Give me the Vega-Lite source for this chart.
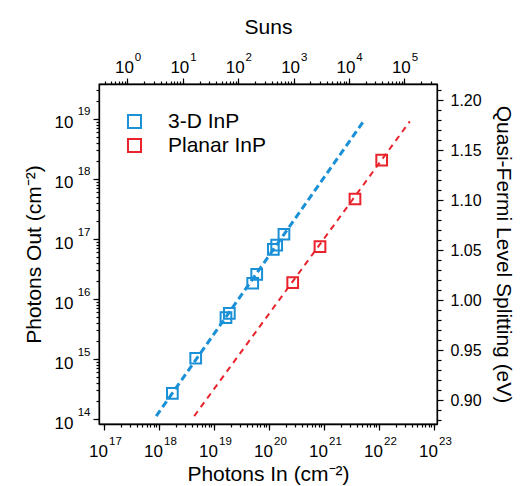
{
  "$schema": "https://vega.github.io/schema/vega-lite/v6.json",
  "autosize": "none",
  "width": 338,
  "height": 340,
  "padding": {"left": 99, "top": 84, "right": 86, "bottom": 62},
  "background": "white",
  "config": {
    "font": "Liberation Sans",
    "view": {"stroke": "black", "strokeWidth": 1.3},
    "axis": {
      "grid": false,
      "domainColor": "black",
      "domainWidth": 1.3,
      "tickColor": "black",
      "tickWidth": 1.2,
      "labelColor": "black",
      "titleColor": "black",
      "labelFontSize": 17,
      "titleFontSize": 21,
      "titleFontWeight": "normal",
      "labelFont": "Liberation Sans",
      "titleFont": "Liberation Sans"
    },
    "legend": {"labelFont": "Liberation Sans"}
  },
  "datasets": {
    "measured": [
      {"sample": "3-D InP", "photons_in": 1.75e18, "photons_out": 2.68e14},
      {"sample": "3-D InP", "photons_in": 4.65e18, "photons_out": 1.03e15},
      {"sample": "3-D InP", "photons_in": 1.65e19, "photons_out": 4.88e15},
      {"sample": "3-D InP", "photons_in": 1.9e19, "photons_out": 5.78e15},
      {"sample": "3-D InP", "photons_in": 5.06e19, "photons_out": 1.83e16},
      {"sample": "3-D InP", "photons_in": 5.98e19, "photons_out": 2.58e16},
      {"sample": "3-D InP", "photons_in": 1.2e20, "photons_out": 6.73e16},
      {"sample": "3-D InP", "photons_in": 1.38e20, "photons_out": 7.94e16},
      {"sample": "3-D InP", "photons_in": 1.87e20, "photons_out": 1.2e17},
      {"sample": "Planar InP", "photons_in": 2.7e20, "photons_out": 1.87e16},
      {"sample": "Planar InP", "photons_in": 8.46e20, "photons_out": 7.45e16},
      {"sample": "Planar InP", "photons_in": 3.66e21, "photons_out": 4.64e17},
      {"sample": "Planar InP", "photons_in": 1.12e22, "photons_out": 2.07e18}
    ],
    "fit_3d": [
      {"photons_in": 8.9e17, "photons_out": 1.12e14},
      {"photons_in": 5.13e21, "photons_out": 8.9e18}
    ],
    "fit_planar": [
      {"photons_in": 4.37e18, "photons_out": 1.12e14},
      {"photons_in": 3.63e22, "photons_out": 9.1e18}
    ],
    "secondary": [
      {"suns": 1, "qfls": 1.0}
    ]
  },
  "layer": [
    {
      "encoding": {
        "x": {
          "field": "photons_in",
          "type": "quantitative",
          "title": "Photons In (cm⁻²)",
          "scale": {"type": "log", "domain": [8.11e16, 1.135e23], "nice": false},
          "axis": {
            "orient": "bottom",
            "values": [1e17,1e18,1e19,1e20,1e21,1e22,1e23],
            "labelExpr": "'10'",
            "ticks": true,
            "tickSize": 6,
            "labelOverlap": false,
            "labelFlush": false,
            "labelBaseline": "middle",
            "labelPadding": 21,
            "labelOffset": -6,
            "titlePadding": 4
          }
        },
        "y": {
          "field": "photons_out",
          "type": "quantitative",
          "title": "Photons Out (cm⁻²)",
          "scale": {"type": "log", "domain": [8.26e13, 3.83e19], "nice": false},
          "axis": {
            "orient": "left",
            "values": [1e14,1e15,1e16,1e17,1e18,1e19],
            "labelExpr": "'10'",
            "ticks": true,
            "tickSize": 6,
            "labelOverlap": false,
            "labelFlush": false,
            "labelAlign": "right",
            "labelBaseline": "middle",
            "labelPadding": 20,
            "labelOffset": 4,
            "titlePadding": 10
          }
        }
      },
      "layer": [
        {
          "data": {"name": "fit_3d"},
          "mark": {"type": "line", "color": "#1a90d6", "strokeWidth": 3, "strokeDash": [7, 4], "clip": true}
        },
        {
          "data": {"name": "fit_planar"},
          "mark": {"type": "line", "color": "#e8232b", "strokeWidth": 2, "strokeDash": [6, 5], "clip": true}
        },
        {
          "data": {"name": "measured"},
          "mark": {"type": "point", "shape": "square", "filled": false, "size": 115, "strokeWidth": 2, "opacity": 1},
          "encoding": {
            "color": {
              "field": "sample",
              "type": "nominal",
              "scale": {"domain": ["3-D InP", "Planar InP"], "range": ["#1a90d6", "#e8232b"]},
              "legend": {
                "title": null,
                "orient": "none",
                "legendX": 25,
                "legendY": 27,
                "padding": 0,
                "symbolType": "square",
                "symbolSize": 170,
                "symbolStrokeWidth": 2,
                "symbolFillColor": "transparent",
                "labelFontSize": 21,
                "labelColor": "black",
                "labelOffset": 23,
                "rowPadding": 1
              }
            }
          }
        }
      ]
    },
    {
      "data": {"name": "measured"},
      "mark": {"type": "point", "opacity": 0},
      "encoding": {
        "x": {
          "field": "photons_in",
          "type": "quantitative",
          "scale": {"type": "log", "domain": [8.11e16, 1.135e23], "nice": false},
          "axis": {
            "orient": "bottom",
            "title": null,
            "domain": false,
            "ticks": true,
            "tickSize": 3,
            "labelOverlap": false,
            "labelFlush": false,
            "values": [1e17,2e17,3e17,4e17,5e17,6e17,7e17,8e17,9e17,1e18,2e18,3e18,4e18,5e18,6e18,7e18,8e18,9e18,1e19,2e19,3e19,4e19,5e19,6e19,7e19,8e19,9e19,1e20,2e20,3e20,4e20,5e20,6e20,7e20,8e20,9e20,1e21,2e21,3e21,4e21,5e21,6e21,7e21,8e21,9e21,1e22,2e22,3e22,4e22,5e22,6e22,7e22,8e22,9e22,1e23],
            "labelExpr": "abs(log(datum.value)/LN10 - round(log(datum.value)/LN10)) < 0.001 ? '' + round(log(datum.value)/LN10) : ''",
            "labelFontSize": 11.5,
            "labelBaseline": "middle",
            "labelPadding": 14,
            "labelOffset": 11
          }
        },
        "y": {
          "field": "photons_out",
          "type": "quantitative",
          "scale": {"type": "log", "domain": [8.26e13, 3.83e19], "nice": false},
          "axis": {
            "orient": "left",
            "title": null,
            "domain": false,
            "ticks": true,
            "tickSize": 3,
            "labelOverlap": false,
            "labelFlush": false,
            "values": [1e14,2e14,3e14,4e14,5e14,6e14,7e14,8e14,9e14,1e15,2e15,3e15,4e15,5e15,6e15,7e15,8e15,9e15,1e16,2e16,3e16,4e16,5e16,6e16,7e16,8e16,9e16,1e17,2e17,3e17,4e17,5e17,6e17,7e17,8e17,9e17,1e18,2e18,3e18,4e18,5e18,6e18,7e18,8e18,9e18,1e19,2e19,3e19],
            "labelExpr": "abs(log(datum.value)/LN10 - round(log(datum.value)/LN10)) < 0.001 ? '' + round(log(datum.value)/LN10) : ''",
            "labelFontSize": 11.5,
            "labelAlign": "right",
            "labelBaseline": "middle",
            "labelPadding": 6,
            "labelOffset": -7
          }
        }
      }
    },
    {
      "data": {"name": "secondary"},
      "mark": {"type": "point", "opacity": 0},
      "encoding": {
        "x": {
          "field": "suns",
          "type": "quantitative",
          "title": "Suns",
          "scale": {"type": "log", "domain": [0.306, 389000], "nice": false},
          "axis": {
            "orient": "top",
            "values": [1,10,100,1000,10000,100000],
            "labelExpr": "'10'",
            "ticks": true,
            "tickSize": 6,
            "labelOverlap": false,
            "labelFlush": false,
            "labelBaseline": "middle",
            "labelPadding": 11,
            "labelOffset": -3.5,
            "titlePadding": 21
          }
        },
        "y": {
          "field": "qfls",
          "type": "quantitative",
          "title": "Quasi-Fermi Level Splitting (eV)",
          "scale": {"domain": [0.876, 1.2165], "zero": false, "nice": false},
          "axis": {
            "orient": "right",
            "values": [0.9,0.95,1.0,1.05,1.1,1.15,1.2],
            "labelExpr": "format(datum.value, '.2f')",
            "ticks": true,
            "tickSize": 6,
            "labelOverlap": false,
            "labelFlush": false,
            "labelFontSize": 16,
            "labelAlign": "left",
            "labelBaseline": "middle",
            "labelPadding": 7,
            "titlePadding": 11
          }
        }
      }
    },
    {
      "data": {"name": "secondary"},
      "mark": {"type": "point", "opacity": 0},
      "encoding": {
        "x": {
          "field": "suns",
          "type": "quantitative",
          "scale": {"type": "log", "domain": [0.306, 389000], "nice": false},
          "axis": {
            "orient": "top",
            "title": null,
            "domain": false,
            "ticks": true,
            "tickSize": 3,
            "labelOverlap": false,
            "labelFlush": false,
            "values": [0.4,0.5,0.6,0.7,0.8,0.9,1,2,3,4,5,6,7,8,9,10,20,30,40,50,60,70,80,90,100,200,300,400,500,600,700,800,900,1000,2000,3000,4000,5000,6000,7000,8000,9000,10000,20000,30000,40000,50000,60000,70000,80000,90000,100000,200000,300000],
            "labelExpr": "abs(log(datum.value)/LN10 - round(log(datum.value)/LN10)) < 0.001 ? '' + round(log(datum.value)/LN10) : ''",
            "labelFontSize": 11.5,
            "labelBaseline": "middle",
            "labelPadding": 24,
            "labelOffset": 10
          }
        },
        "y": {
          "field": "qfls",
          "type": "quantitative",
          "scale": {"domain": [0.876, 1.2165], "zero": false, "nice": false},
          "axis": {
            "orient": "right",
            "title": null,
            "domain": false,
            "labels": false,
            "ticks": true,
            "tickSize": 4,
            "values": [0.88,0.89,0.91,0.92,0.93,0.94,0.96,0.97,0.98,0.99,1.01,1.02,1.03,1.04,1.06,1.07,1.08,1.09,1.11,1.12,1.13,1.14,1.16,1.17,1.18,1.19,1.21]
          }
        }
      }
    }
  ],
  "resolve": {"scale": {"x": "independent", "y": "independent"}}
}
